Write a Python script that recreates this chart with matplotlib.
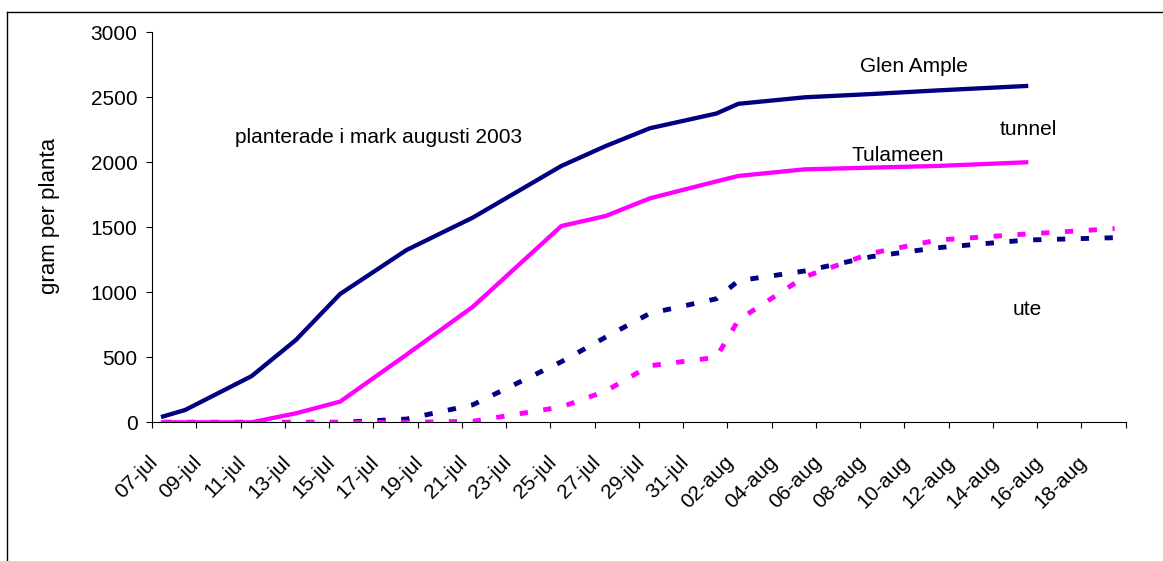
import matplotlib
matplotlib.use("Agg")
import matplotlib.pyplot as plt
from matplotlib.lines import Line2D
from matplotlib.transforms import ScaledTranslation
import numpy as np

plt.rcParams['font.family'] = ['Liberation Sans', 'DejaVu Sans']

# Skördedatum (mätningar)
datum = ['2003-07-07', '2003-07-08', '2003-07-11', '2003-07-13', '2003-07-15',
         '2003-07-18', '2003-07-21', '2003-07-25', '2003-07-27', '2003-07-29',
         '2003-08-01', '2003-08-02', '2003-08-05', '2003-08-08', '2003-08-11',
         '2003-08-15']
datum_ute = datum + ['2003-08-19']

# Ackumulerad skörd, gram per planta
glen_tunnel = [45, 95, 355, 633, 987, 1325, 1575, 1972, 2125, 2262, 2375,
               2450, 2500, 2525, 2553, 2587]
tula_tunnel = [0, 0, 0, 69, 159, 520, 889, 1510, 1587, 1723, 1853, 1895,
               1946, 1959, 1972, 2000]
glen_ute = [0, 0, 0, 0, 0, 25, 135, 466, 655, 838, 950, 1089, 1164, 1274,
            1343, 1402, 1420]
tula_ute = [0, 0, 0, 0, 0, 0, 8, 118, 240, 435, 500, 787, 1120, 1300, 1402,
            1448, 1490]

x_etiketter = ['07-jul', '09-jul', '11-jul', '13-jul', '15-jul', '17-jul',
               '19-jul', '21-jul', '23-jul', '25-jul', '27-jul', '29-jul',
               '31-jul', '02-aug', '04-aug', '06-aug', '08-aug', '10-aug',
               '12-aug', '14-aug', '16-aug', '18-aug']

start = np.datetime64('2003-07-07')


def dagar(d):
    # dagar sedan start, punkten mitt i dagens intervall
    return (np.array(d, dtype='datetime64[D]') - start).astype(int) + 0.5


navy = '#000080'
magenta = '#FF00FF'

fig = plt.figure(figsize=(11.63, 5.61), dpi=100)
ax = fig.add_axes([152 / 1163, 1 - 422.3 / 561, 973.7 / 1163, 390 / 561])

streck = (1.7, 3.2)
ax.plot(dagar(datum_ute), glen_ute, color=navy, lw=3.5, dashes=streck,
        dash_capstyle='butt', zorder=2)
ax.plot(dagar(datum_ute), tula_ute, color=magenta, lw=3.5, dashes=streck,
        dash_capstyle='butt', zorder=3)
ax.plot(dagar(datum), glen_tunnel, color=navy, lw=3.1, zorder=4,
        solid_joinstyle='miter')
ax.plot(dagar(datum), tula_tunnel, color=magenta, lw=3.1, zorder=4,
        solid_joinstyle='miter')

ax.set_xlim(0, 44)
ax.set_ylim(0, 3000)
ax.set_yticks(np.arange(0, 3001, 500))
tick_pos = np.arange(0, 45, 2)
ax.set_xticks(tick_pos)
ax.set_xticklabels([])

# datumetiketter, snett under sitt streck
skift = ScaledTranslation(-0.04, -0.30, fig.dpi_scale_trans)
for pos, lab in zip(tick_pos, x_etiketter):
    ax.text(pos, 0, lab, transform=ax.get_xaxis_transform() + skift,
            rotation=45, ha='right', va='top', rotation_mode='anchor',
            fontsize=15)

ax.tick_params(axis='y', labelsize=15, direction='out', length=4.5,
               width=0.8, pad=6)
ax.tick_params(axis='x', direction='out', length=4.5, width=0.8)
for s in ['top', 'right']:
    ax.spines[s].set_visible(False)
for s in ['left', 'bottom']:
    ax.spines[s].set_linewidth(0.8)
    ax.spines[s].set_color('black')

ax.set_ylabel('gram per planta', fontsize=16)
ax.yaxis.set_label_coords(-0.094, 0.53)

ax.text(0.0852, 0.7154, 'planterade i mark augusti 2003', fontsize=15,
        transform=ax.transAxes, va='baseline')
ax.text(0.727, 0.898, 'Glen Ample', fontsize=15, transform=ax.transAxes,
        va='baseline')
ax.text(0.871, 0.7367, 'tunnel', fontsize=15, transform=ax.transAxes,
        va='baseline')
ax.text(0.7189, 0.6708, 'Tulameen', fontsize=15, transform=ax.transAxes,
        va='baseline')
ax.text(0.884, 0.275, 'ute', fontsize=15, transform=ax.transAxes,
        va='baseline')

# ram runt diagrammet
fx = 7 / 1163
fy = 1 - 12 / 561
fig.add_artist(Line2D([fx, fx], [0, fy], color='black', lw=1,
                      transform=fig.transFigure))
fig.add_artist(Line2D([fx, 1], [fy, fy], color='black', lw=1,
                      transform=fig.transFigure))

fig.savefig('out.png', dpi=100)
